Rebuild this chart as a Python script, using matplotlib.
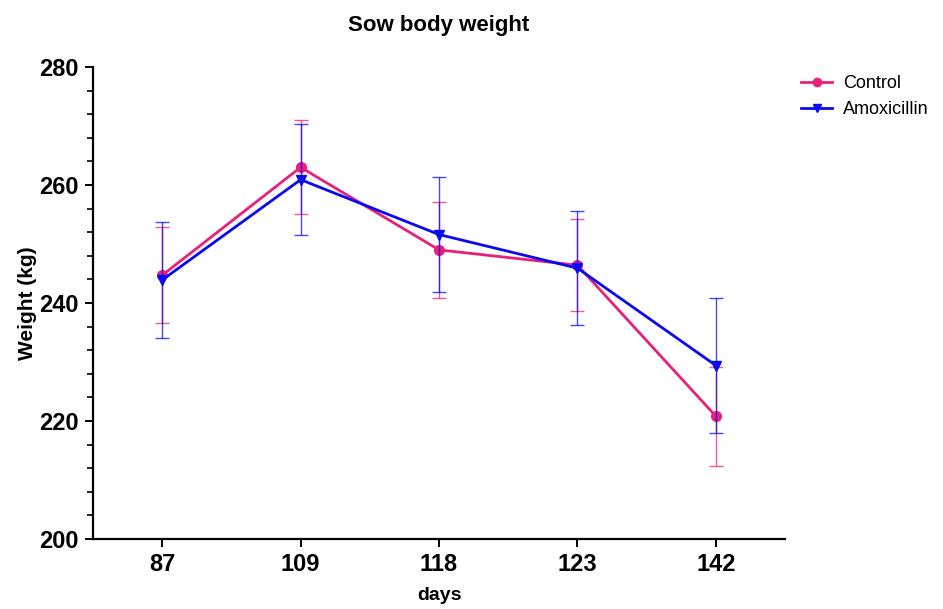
import numpy as np
import matplotlib
matplotlib.use("Agg")
from matplotlib import pyplot as plt
from matplotlib.ticker import MultipleLocator
from matplotlib.lines import Line2D

plt.rcParams['font.family'] = ['Liberation Sans', 'DejaVu Sans']

days = ["87", "109", "118", "123", "142"]
control_mean = [244.7, 263.0, 249.0, 246.4, 220.8]
control_err = [8.1, 8.0, 8.2, 7.8, 8.4]
amox_mean = [243.9, 260.9, 251.6, 245.9, 229.4]
amox_err = [9.8, 9.4, 9.8, 9.7, 11.4]

pink = "#E8207C"
blue = "#0A0AF0"

fig = plt.figure(figsize=(9.43, 6.09), dpi=100)
ax = fig.add_axes([0.0986, 0.115, 0.734, 0.775])

x = np.arange(len(days))

ax.errorbar(x, control_mean, yerr=control_err, color=pink, marker="o",
            markersize=7, linewidth=2, elinewidth=1, capsize=5, capthick=1,
            ecolor=(0.91, 0.13, 0.49, 0.75), zorder=3)
ax.errorbar(x, amox_mean, yerr=amox_err, color=blue, marker="v",
            markersize=7, linewidth=2, elinewidth=1, capsize=5, capthick=1,
            ecolor=(0.04, 0.04, 0.94, 0.75), zorder=4)

ax.set_xlim(-0.5, 4.5)
ax.set_ylim(200, 280)
ax.set_xticks(x)
ax.set_xticklabels(days)
ax.yaxis.set_major_locator(MultipleLocator(20))
ax.yaxis.set_minor_locator(MultipleLocator(4))

for side in ["top", "right"]:
    ax.spines[side].set_visible(False)
for side in ["left", "bottom"]:
    ax.spines[side].set_linewidth(1.6)

ax.tick_params(axis="both", which="major", length=6, width=1.4,
               labelsize=17, pad=4)
ax.tick_params(axis="y", which="minor", length=4, width=1.2)
for lbl in ax.get_xticklabels() + ax.get_yticklabels():
    lbl.set_fontweight("bold")

ax.set_xlabel("days", fontsize=14, fontweight="bold", labelpad=8)
ax.set_ylabel("Weight (kg)", fontsize=15, fontweight="bold", labelpad=2)
ax.set_title("Sow body weight", fontsize=16, fontweight="bold", pad=26)

handles = [
    Line2D([], [], color=pink, marker="o", markersize=6, linewidth=2),
    Line2D([], [], color=blue, marker="v", markersize=6, linewidth=2),
]
ax.legend(handles, ["Control", "Amoxicillin"], loc="upper left",
          bbox_to_anchor=(1.0, 1.017), frameon=False, fontsize=13,
          handlelength=1.7, handletextpad=0.6, borderaxespad=0.5,
          labelspacing=0.5)

fig.savefig("out.png", dpi=100)
